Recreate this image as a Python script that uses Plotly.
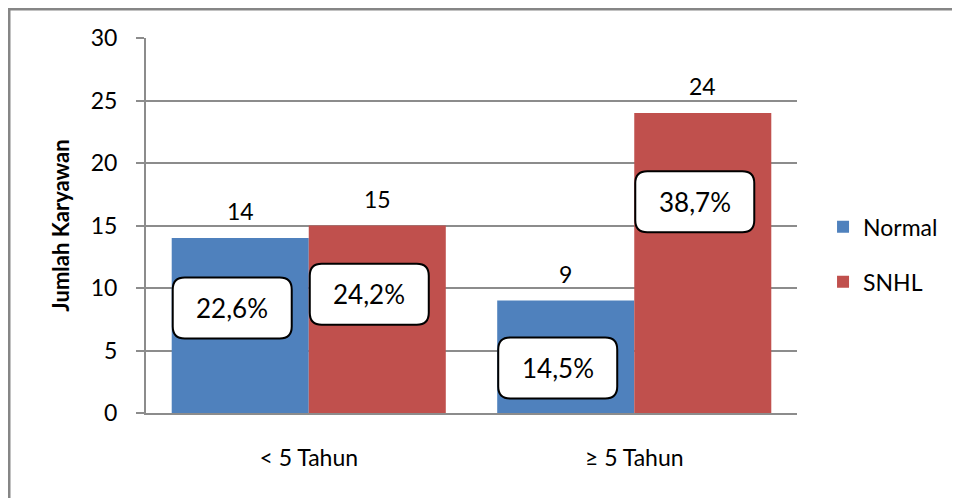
import plotly.graph_objects as go

categories = ["< 5 Tahun", "≥ 5 Tahun"]
normal = [14, 9]
snhl = [15, 24]
normal_pct = ["22,6%", "14,5%"]
snhl_pct = ["24,2%", "38,7%"]
y_ticks = [0, 5, 10, 15, 20, 25, 30]

# label anchor heights (in axis units) for the percentage boxes
normal_pct_y = [8.4, 3.6]
snhl_pct_y = [9.5, 16.9]

BLUE = "#4F81BD"
RED = "#C0504D"
GRID = "#8C8C8C"
FONT = "Lato, Carlito, Calibri, 'Open Sans', sans-serif"

fig = go.Figure()
fig.add_trace(go.Bar(name="Normal", x=categories, y=normal, marker_color=BLUE,
                     marker_line_width=0, legendgroup="a"))
fig.add_trace(go.Bar(name="SNHL", x=categories, y=snhl, marker_color=RED,
                     marker_line_width=0, legendgroup="b"))

# page has an 8px body margin; figure coords = page coords - 8
L, R, T, B = 138, 171, 30, 93
W, H = 960, 498
pw, ph = W - L - R, H - T - B

annotations = []
off = 0.2105
for i, c in enumerate(categories):
    for vals, pcts, pys, dx in ((normal, normal_pct, normal_pct_y, -off),
                                (snhl, snhl_pct, snhl_pct_y, off)):
        annotations.append(dict(x=i + dx, y=vals[i], text=str(vals[i]), showarrow=False,
                                yanchor="middle", yshift=27,
                                font=dict(size=23, color="#000000", family=FONT)))
        annotations.append(dict(x=i + dx, y=pys[i], text=pcts[i], showarrow=False,
                                xshift=-8, yanchor="middle", xanchor="center",
                                font=dict(size=26, color="#000000", family=FONT)))

shapes = []
box_w, box_h, rad = 119, 61, 12


def rounded_path(w, h, r, dx):
    x0, x1, y0, y1 = -w / 2 + dx, w / 2 + dx, -h / 2, h / 2
    return (f"M{x0 + r},{y0} L{x1 - r},{y0} Q{x1},{y0} {x1},{y0 + r} "
            f"L{x1},{y1 - r} Q{x1},{y1} {x1 - r},{y1} L{x0 + r},{y1} "
            f"Q{x0},{y1} {x0},{y1 - r} L{x0},{y0 + r} Q{x0},{y0} {x0 + r},{y0} Z")


for i in range(len(categories)):
    for pys, dx in ((normal_pct_y, -off), (snhl_pct_y, off)):
        shapes.append(dict(type="path", xref="x", yref="y",
                           xsizemode="pixel", ysizemode="pixel",
                           xanchor=i + dx, yanchor=pys[i],
                           path=rounded_path(box_w, box_h, rad, -8),
                           fillcolor="white", line=dict(color="black", width=2),
                           layer="above"))

# outer chart border
shapes.append(dict(type="rect", xref="paper", yref="paper", layer="above",
                   x0=(1 - L) / pw, x1=(975 - L) / pw,
                   y0=(H - B - 520) / ph, y1=(H - B - 1) / ph,
                   line=dict(color="#868686", width=3), fillcolor="rgba(0,0,0,0)"))

fig.update_layout(
    width=W, height=H,
    margin=dict(l=L, r=R, t=T, b=B, autoexpand=False),
    paper_bgcolor="white", plot_bgcolor="white",
    barmode="group", bargap=0.158, bargroupgap=0,
    font=dict(family=FONT, size=23, color="#000000"),
    showlegend=True,
    legend=dict(x=1.04, xanchor="left", y=0.423, yanchor="middle",
                xref="paper", yref="paper",
                font=dict(size=23, family=FONT), tracegroupgap=22,
                itemwidth=30, bgcolor="rgba(0,0,0,0)"),
    annotations=annotations,
    shapes=shapes,
)
fig.update_xaxes(showline=True, linecolor=GRID, linewidth=2, ticks="",
                 ticklabelstandoff=23, tickfont=dict(size=23, family=FONT),
                 showgrid=False)
fig.update_yaxes(range=[0, 30], tickvals=y_ticks, showgrid=True, gridcolor=GRID,
                 gridwidth=1.5, showline=True, linecolor=GRID, linewidth=2,
                 ticks="outside", ticklen=8, tickcolor=GRID, tickwidth=1.5,
                 ticklabelstandoff=14, tickfont=dict(size=23, family=FONT),
                 zeroline=False,
                 title=dict(text="<b>Jumlah Karyawan</b>", standoff=15,
                            font=dict(size=22, family=FONT)))

fig.write_html("out.html")
